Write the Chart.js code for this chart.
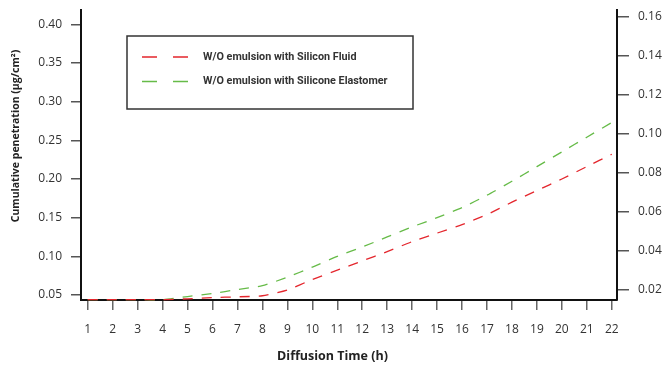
<!DOCTYPE html>
<html>
<head>
<meta charset="utf-8">
<script src="https://cdn.jsdelivr.net/npm/chart.js@4.4.1/dist/chart.umd.min.js"></script>
<style>
  html, body { margin: 0; padding: 0; background: #fff; }
  #wrap { width: 665px; height: 376px; position: relative; }
</style>
</head>
<body>
<div id="wrap"><canvas id="chart"></canvas></div>
<script>
// Diffusion time (h)
const hours = [1, 2, 3, 4, 5, 6, 7, 8, 9, 10, 11, 12, 13, 14, 15, 16, 17, 18, 19, 20, 21, 22];

// cumulative penetration (µg/cm²)
const siliconFluid = [0.044, 0.044, 0.044, 0.044, 0.045, 0.0466, 0.0476, 0.049, 0.0565, 0.070, 0.082,
  0.094, 0.106, 0.119, 0.130, 0.141, 0.154, 0.170, 0.185, 0.200, 0.216, 0.232];
const siliconeElastomer = [0.044, 0.044, 0.044, 0.044, 0.048, 0.052, 0.057, 0.062, 0.073, 0.086, 0.100,
  0.112, 0.125, 0.138, 0.150, 0.163, 0.179, 0.197, 0.216, 0.235, 0.254, 0.273];

const seriesNames = ["W/O emulsion with Silicon Fluid", "W/O emulsion with Silicone Elastomer"];

const leftTicks = [0.05, 0.10, 0.15, 0.20, 0.25, 0.30, 0.35, 0.40];
const rightTicks = [0.02, 0.04, 0.06, 0.08, 0.10, 0.12, 0.14, 0.16];

const xTitle = "Diffusion Time (h)";
const yTitle = "Cumulative penetration (µg/cm²)";

const RED = "#e4262d";
const GREEN = "#66bb48";
const FONT = "'Open Sans', 'Noto Sans', sans-serif";
const BOLD_FONT = "Roboto, 'Open Sans', sans-serif";

const toPoints = (vals) => vals.map((v, i) => ({ x: hours[i], y: v }));

// boxed legend + axis titles, drawn on the canvas
const decorations = {
  id: "decorations",
  afterDraw(chart) {
    const ctx = chart.ctx;
    const area = chart.chartArea;
    ctx.save();

    // legend box
    const bx = area.left + 46, by = area.top + 26, bw = 286, bh = 73;
    ctx.strokeStyle = "#333";
    ctx.lineWidth = 1.5;
    ctx.strokeRect(bx, by, bw, bh);

    ctx.font = "bold 10.8px " + BOLD_FONT;
    ctx.textBaseline = "middle";
    ctx.fillStyle = "#333";
    chart.data.datasets.forEach((ds, i) => {
      const y = by + 21 + i * 24.5;
      ctx.strokeStyle = ds.borderColor;
      ctx.lineWidth = 1.4;
      ctx.setLineDash([15, 16]);
      ctx.beginPath();
      ctx.moveTo(bx + 15, y);
      ctx.lineTo(bx + 62, y);
      ctx.stroke();
      ctx.setLineDash([]);
      ctx.textAlign = "left";
      ctx.fillText(ds.label, bx + 76, y);
    });

    // axis titles
    ctx.fillStyle = "#222";
    ctx.textAlign = "center";
    ctx.font = "bold 12.5px " + FONT;
    ctx.fillText(xTitle, chart.width / 2, 356);

    ctx.font = "bold 10.5px " + FONT;
    ctx.translate(16, 136);
    ctx.rotate(-Math.PI / 2);
    ctx.fillText(yTitle, 0, 0);
    ctx.restore();
  }
};

const tickFont = { family: FONT, size: 12 };

function noPad(s) {
  s.paddingTop = 0;
  s.paddingBottom = 0;
  s.paddingLeft = 0;
  s.paddingRight = 0;
}

new Chart(document.getElementById("chart"), {
  type: "line",
  data: {
    datasets: [
      {
        label: seriesNames[0],
        data: toPoints(siliconFluid),
        borderColor: RED,
        borderWidth: 1.3,
        borderDash: [10, 9],
        pointRadius: 0,
        tension: 0.2,
        fill: false,
        clip: false,
        yAxisID: "y"
      },
      {
        label: seriesNames[1],
        data: toPoints(siliconeElastomer),
        borderColor: GREEN,
        borderWidth: 1.3,
        borderDash: [10, 9],
        pointRadius: 0,
        tension: 0.2,
        fill: false,
        clip: false,
        yAxisID: "y"
      }
    ]
  },
  options: {
    responsive: true,
    maintainAspectRatio: false,
    animation: false,
    layout: { padding: { top: 10, left: 0, right: 0, bottom: 0 } },
    plugins: {
      legend: { display: false },
      tooltip: { enabled: false }
    },
    scales: {
      x: {
        type: "linear",
        min: 0.73,
        max: 22.21,
        afterBuildTicks: (s) => { s.ticks = hours.map((v) => ({ value: v })); },
        afterFit: (s) => { s.height = 76; noPad(s); },
        border: { display: true, color: "#111", width: 2 },
        grid: { display: true, drawOnChartArea: false, drawTicks: true, tickLength: 10, color: "#666", lineWidth: 1.5 },
        ticks: { font: tickFont, color: "#333", padding: 12, maxRotation: 0, autoSkip: false }
      },
      y: {
        position: "left",
        min: 0.0435,
        max: 0.4185,
        afterBuildTicks: (s) => { s.ticks = leftTicks.map((v) => ({ value: v })); },
        afterFit: (s) => { s.width = 81; noPad(s); },
        border: { display: true, color: "#111", width: 2 },
        grid: { display: true, drawOnChartArea: false, drawTicks: true, tickLength: 10, color: "#555", lineWidth: 1.5 },
        ticks: { font: tickFont, color: "#333", padding: 9, callback: (v) => v.toFixed(2) }
      },
      y2: {
        position: "right",
        min: 0.0145,
        max: 0.1634,
        afterBuildTicks: (s) => { s.ticks = rightTicks.map((v) => ({ value: v })); },
        afterFit: (s) => { s.width = 48; noPad(s); },
        border: { display: true, color: "#111", width: 2 },
        grid: { display: true, drawOnChartArea: false, drawTicks: true, tickLength: 12, color: "#555", lineWidth: 1.5 },
        ticks: { font: tickFont, color: "#333", padding: 9, callback: (v) => v.toFixed(2) }
      }
    }
  },
  plugins: [decorations]
});
</script>
</body>
</html>
